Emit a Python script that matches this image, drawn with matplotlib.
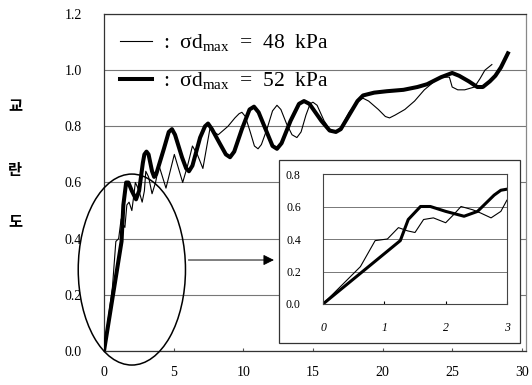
import numpy as np
import matplotlib
matplotlib.use("Agg")
import matplotlib.pyplot as plt
from matplotlib.patches import Ellipse, Rectangle
from matplotlib.lines import Line2D

plt.rcParams['font.family'] = ['Liberation Serif', 'DejaVu Serif']
plt.rcParams['mathtext.fontset'] = 'custom'
plt.rcParams['mathtext.rm'] = 'Liberation Serif'

# thin line: sigma_d max = 48 kPa
x48 = [0, 0.61, 0.85, 1.05, 1.23, 1.38, 1.5, 1.64, 1.8, 2.0, 2.13, 2.25, 2.44, 2.57, 2.74, 2.9,
       3.0, 3.2, 3.45, 3.7, 3.95, 4.2, 4.45, 4.75, 5.05, 5.35, 5.65, 6.0, 6.35, 6.7, 7.1, 7.35,
       7.6, 8.2, 8.9, 9.4, 9.7, 9.9, 10.15, 10.5, 10.8, 11.06, 11.3, 11.7, 12.1, 12.42, 12.7,
       13.1, 13.5, 13.85, 14.15, 14.5, 14.8, 15.0, 15.3, 15.8, 16.2, 16.6, 17.0, 17.6, 18.2,
       18.6, 19.0, 19.7, 20.2, 20.5, 20.9, 21.6, 22.3, 23.0, 23.6, 24.1, 24.8, 25.0, 25.4,
       25.9, 26.6, 27.0, 27.35, 27.85]
y48 = [0, 0.23, 0.39, 0.40, 0.47, 0.45, 0.44, 0.52, 0.53, 0.50, 0.55, 0.60, 0.58, 0.56, 0.53, 0.57,
       0.64, 0.62, 0.56, 0.60, 0.66, 0.62, 0.58, 0.64, 0.70, 0.65, 0.60, 0.66, 0.73, 0.70, 0.65, 0.72,
       0.79, 0.77, 0.80, 0.83, 0.845, 0.85, 0.835, 0.78, 0.73, 0.72, 0.735, 0.79, 0.855, 0.875, 0.86,
       0.81, 0.77, 0.76, 0.78, 0.84, 0.88, 0.886, 0.875, 0.82, 0.79, 0.78, 0.795, 0.85, 0.89,
       0.90, 0.89, 0.86, 0.835, 0.83, 0.84, 0.86, 0.89, 0.93, 0.955, 0.975, 0.975, 0.94, 0.93,
       0.93, 0.94, 0.97, 1.0, 1.02]

# thick line: sigma_d max = 52 kPa
x52 = [0, 1.26, 1.39, 1.59, 1.75, 2.0, 2.3, 2.52, 2.79, 2.9, 3.05, 3.2, 3.45, 3.6, 3.75, 4.3,
       4.65, 4.88, 5.1, 5.6, 5.9, 6.1, 6.35, 6.9, 7.25, 7.47, 7.75, 8.3, 8.75, 9.05, 9.35, 9.9,
       10.45, 10.77, 11.1, 11.6, 12.1, 12.42, 12.75, 13.4, 14.0, 14.36, 14.75, 15.6, 16.2, 16.65,
       17.0, 17.6, 18.2, 18.6, 19.4, 20.3, 21.5, 22.5, 23.2, 24.2, 25.0, 25.5, 26.2, 26.8, 27.2,
       27.7, 28.1, 28.5, 29.0]
y52 = [0, 0.39, 0.52, 0.60, 0.60, 0.57, 0.54, 0.57, 0.67, 0.70, 0.71, 0.70, 0.64, 0.62, 0.63, 0.72,
       0.78, 0.79, 0.77, 0.69, 0.65, 0.64, 0.66, 0.76, 0.80, 0.81, 0.79, 0.74, 0.70, 0.69, 0.71, 0.79,
       0.86, 0.87, 0.85, 0.79, 0.73, 0.72, 0.74, 0.82, 0.88, 0.89, 0.88, 0.82, 0.785, 0.78,
       0.79, 0.84, 0.89, 0.91, 0.92, 0.925, 0.93, 0.94, 0.95, 0.975, 0.99, 0.98, 0.96, 0.94, 0.94,
       0.96, 0.98, 1.01, 1.06]

legend_labels = [r':  σd$_{\rm max}$  =  48  kPa', r':  σd$_{\rm max}$  =  52  kPa']
ylabel_chars = ['교', '란', '도']

fig = plt.figure(figsize=(5.32, 3.85), dpi=100)
ax = fig.add_axes([104 / 532, 34 / 385, 422 / 532, 337 / 385])

ax.plot(x48, y48, color='black', lw=0.8, zorder=3)
ax.plot(x52, y52, color='black', lw=2.9, zorder=4, solid_joinstyle='round')

ax.set_xlim(0, 30.3)
ax.set_ylim(0, 1.2)
ax.set_xticks([0, 5, 10, 15, 20, 25, 30])
ax.set_yticks([0.0, 0.2, 0.4, 0.6, 0.8, 1.0, 1.2])
ax.set_yticklabels(['%.1f' % v for v in ax.get_yticks()])
ax.tick_params(axis='x', direction='in', length=2, pad=11, labelsize=10, color='#555555')
ax.tick_params(axis='y', length=0, pad=16, labelsize=10)
ax.grid(axis='y', color='#777777', lw=0.8)
for s in ax.spines.values():
    s.set_color('#333333')
    s.set_linewidth(0.9)
ax.spines['right'].set_color('#888888')

# legend
handles = [Line2D([], [], color='black', lw=0.8), Line2D([], [], color='black', lw=2.9)]
ax.legend(handles, legend_labels, loc='upper left', bbox_to_anchor=(0.038, 0.945),
          frameon=False, fontsize=15.5, handlelength=1.5, handletextpad=0.5,
          labelspacing=0.75, borderpad=0, borderaxespad=0)

# circled region and arrow toward the inset
ax.add_patch(Ellipse((2.0, 0.29), 7.7, 0.68, fill=False, color='black', lw=1.1,
                     clip_on=False, zorder=5))
ax.annotate('', xy=(12.4, 0.324), xytext=(5.86, 0.324),
            arrowprops=dict(arrowstyle='-|>', mutation_scale=16, color='black', lw=0.7))

# y label, one character per line
for ch, yp in zip(ylabel_chars, [106, 170, 221]):
    fig.text(15 / 532, 1 - yp / 385, ch, fontsize=11, fontweight='bold',
             family=['Noto Sans CJK KR', 'DejaVu Sans'], ha='center', va='center')

# inset
box = Rectangle((279 / 532, 42 / 385), 241 / 532, 183 / 385, transform=fig.transFigure,
                facecolor='white', edgecolor='#333333', lw=0.9, zorder=10)
fig.patches.append(box)

ins = fig.add_axes([323 / 532, 81 / 385, 184 / 532, 130 / 385])
ins.set_zorder(11)
ins.plot(x48, y48, color='black', lw=0.8)
ins.plot(x52, y52, color='black', lw=2.2, solid_joinstyle='round')
ins.set_xlim(0, 3)
ins.set_ylim(0, 0.8)
ins.set_xticks([0, 1, 2, 3])
ins.set_xticklabels(['0', '1', '2', '3'], style='italic')
ins.set_yticks([0.0, 0.2, 0.4, 0.6, 0.8])
ins.set_yticklabels(['0.0', '0.2', '0.4', '0.6', '0.8'])
ins.tick_params(axis='x', direction='in', length=2, pad=13, labelsize=8.5)
ins.tick_params(axis='y', length=0, pad=16, labelsize=8.5)
ins.grid(axis='y', color='#777777', lw=0.7)
for s in ins.spines.values():
    s.set_color('#444444')
    s.set_linewidth(0.8)

fig.savefig('out.png', dpi=100)
